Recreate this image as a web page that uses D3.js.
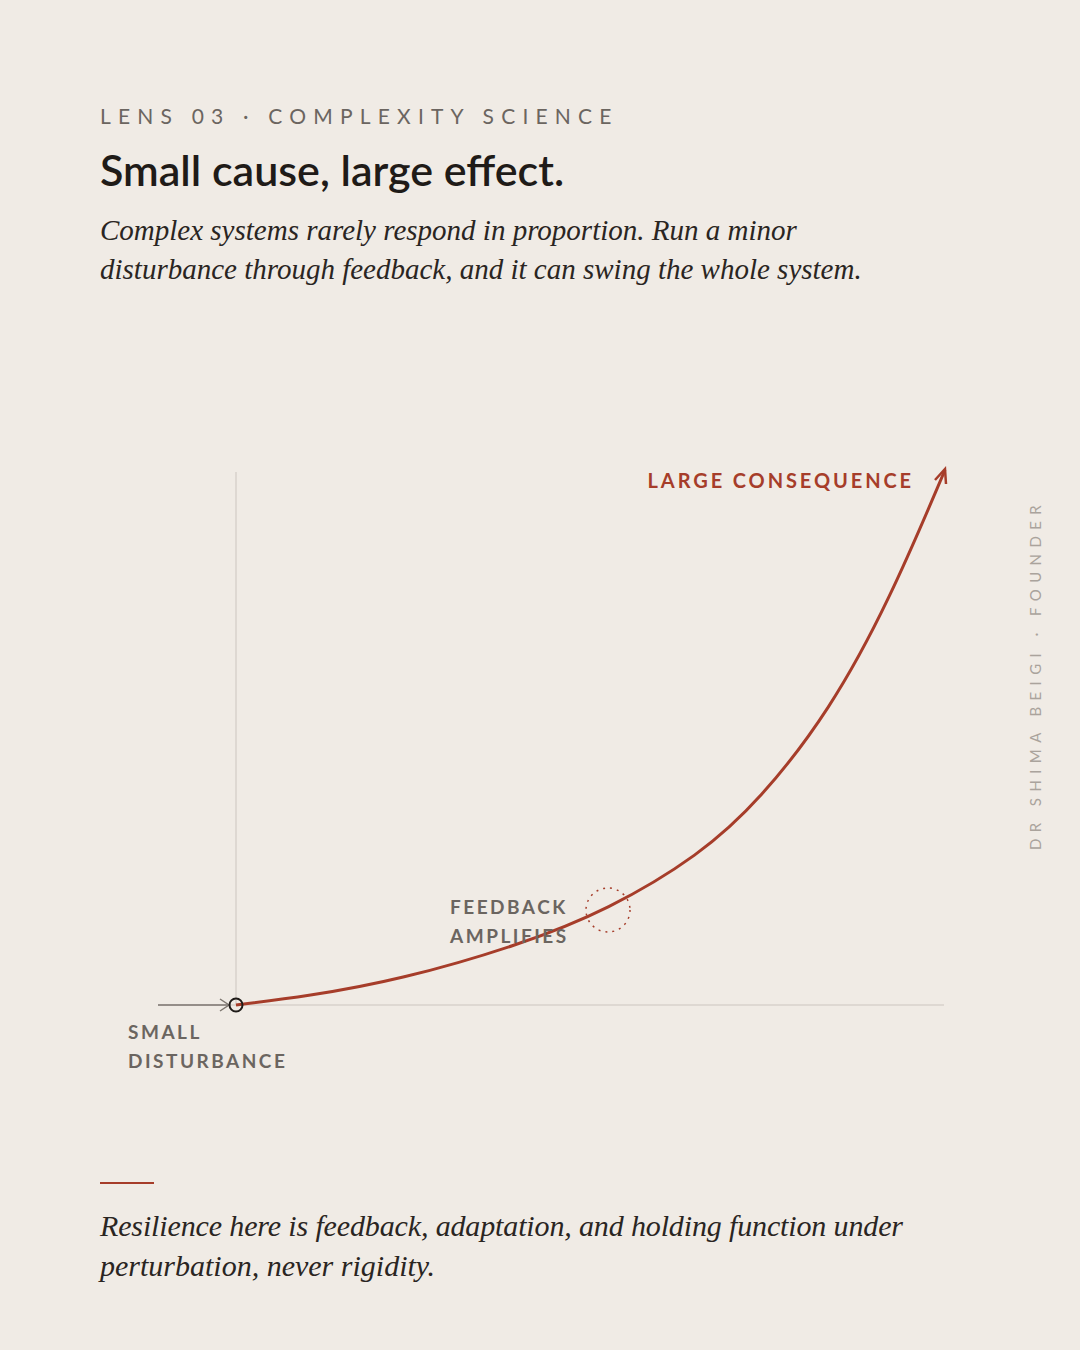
<!DOCTYPE html><html><head><meta charset="utf-8">
<script src="https://cdn.jsdelivr.net/npm/d3@7"></script>
<style>body{margin:0;background:#f0ebe5}svg{display:block}</style></head><body>
<script>
const xs=[0,1,2.31,4.0,5.25,6.54,7.39,8.38,9.22,10];
const ys=[0,1.6,4.7,11.2,17.8,28.0,38.3,55.1,75.7,100];
const W=1080,H=1350,red="#a63d2a",gray="#6b6560";
const svg=d3.select("body").append("svg").attr("width",W).attr("height",H);
svg.append("rect").attr("width",W).attr("height",H).attr("fill","#f0ebe5");
const sans="Lato, 'Noto Sans', sans-serif", serif="'Liberation Serif', serif";
svg.append("text").attr("x",100).attr("y",124).text("LENS 03 · COMPLEXITY SCIENCE").attr("font-family",sans).attr("font-size",21).attr("letter-spacing",7.2).attr("fill",gray);
svg.append("text").attr("x",100).attr("y",186).text("Small cause, large effect.").attr("font-family",sans).attr("font-weight",600).attr("font-size",43).attr("fill","#1f1b18");
[["Complex systems rarely respond in proportion. Run a minor",240],["disturbance through feedback, and it can swing the whole system.",279]].forEach(d=>svg.append("text").attr("x",100).attr("y",d[1]).text(d[0]).attr("font-family",serif).attr("font-style","italic").attr("font-size",29).attr("fill","#2a2522"));
const x=d3.scaleLinear().domain([0,10]).range([236,945]);
const y=d3.scaleLinear().domain([0,100]).range([1005,470]);
svg.append("line").attr("x1",x(0)).attr("x2",x(0)).attr("y1",472).attr("y2",1005).attr("stroke","#d8d2cb").attr("stroke-width",1.5);
svg.append("line").attr("x1",158).attr("x2",944).attr("y1",y(0)).attr("y2",y(0)).attr("stroke","#d8d2cb").attr("stroke-width",1.5);
svg.append("line").attr("x1",158).attr("x2",228).attr("y1",y(0)).attr("y2",y(0)).attr("stroke","#7d7670").attr("stroke-width",1.5);
svg.append("path").attr("d",`M220,999L229,1005L220,1011`).attr("fill","none").attr("stroke","#7d7670").attr("stroke-width",1.5);
const pts=xs.map((v,i)=>[v,ys[i]]);
svg.append("path").attr("d",d3.line().x(d=>x(d[0])).y(d=>y(d[1])).curve(d3.curveBasis)(pts)).attr("fill","none").attr("stroke",red).attr("stroke-width",3);
svg.append("path").attr("d",`M935,480L945,469L946,484`).attr("fill","none").attr("stroke",red).attr("stroke-width",2.5).attr("stroke-linejoin","miter");
svg.append("circle").attr("cx",x(0)).attr("cy",y(0)).attr("r",6.5).attr("fill","none").attr("stroke","#1f1b18").attr("stroke-width",2);
svg.append("circle").attr("cx",608).attr("cy",910).attr("r",22).attr("fill","none").attr("stroke",red).attr("stroke-width",1.5).attr("stroke-dasharray","2 5");
svg.append("text").attr("x",914).attr("y",488).attr("text-anchor","end").text("LARGE CONSEQUENCE").attr("font-family",sans).attr("font-weight",700).attr("font-size",20).attr("letter-spacing",2.9).attr("fill",red);
const lab=(t,xx,yy)=>svg.append("text").attr("x",xx).attr("y",yy).text(t).attr("font-family",sans).attr("font-weight",700).attr("font-size",19).attr("letter-spacing",2.5).attr("fill",gray);
lab("FEEDBACK",450,914);lab("AMPLIFIES",450,943);lab("SMALL",128,1039);lab("DISTURBANCE",128,1068);
svg.append("text").attr("transform","translate(1041,850) rotate(-90)").text("DR SHIMA BEIGI · FOUNDER").attr("font-family",sans).attr("font-size",15).attr("letter-spacing",6.4).attr("fill","#aaa39c");
svg.append("line").attr("x1",100).attr("x2",154).attr("y1",1183).attr("y2",1183).attr("stroke",red).attr("stroke-width",2);
[["Resilience here is feedback, adaptation, and holding function under",1236],["perturbation, never rigidity.",1276]].forEach(d=>svg.append("text").attr("x",100).attr("y",d[1]).text(d[0]).attr("font-family",serif).attr("font-style","italic").attr("font-size",30).attr("textLength",d[0].length>40?803:null).attr("fill","#2a2522"));
</script></body></html>
